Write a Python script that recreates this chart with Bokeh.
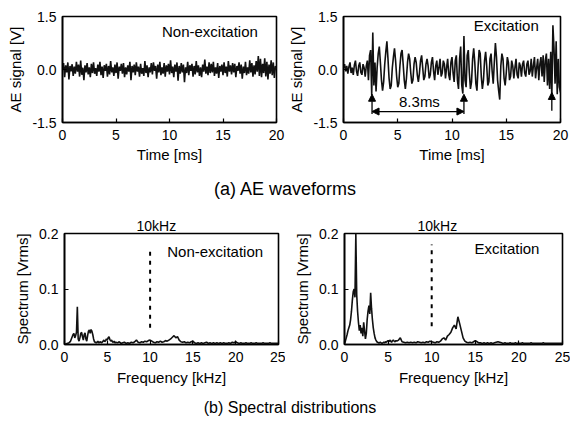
import numpy as np
from bokeh.plotting import figure
from bokeh.models import (Range1d, FixedTicker, PrintfTickFormatter, Label, Arrow,
                          NormalHead, Div)
from bokeh.layouts import row, column
from bokeh.embed import file_html
from bokeh.resources import INLINE

FONT = "Liberation Sans"

# ---------------- data ----------------
time_ms = np.round(np.arange(0, 20.001, 0.1), 1)

ae_non_excitation = [
    0.02, 0.18, -0.22, 0.12, -0.08, 0.20, -0.28, 0.10, -0.05, 0.15,
    -0.18, 0.08, -0.12, 0.22, -0.06, 0.14, -0.20, 0.25, -0.15, 0.05,
    -0.30, 0.12, -0.08, 0.18, -0.14, 0.06, -0.22, 0.16, -0.10, 0.20,
    -0.12, 0.04, -0.18, 0.14, -0.06, 0.22, -0.16, 0.08, -0.24, 0.12,
    -0.04, 0.16, -0.20, 0.10, -0.14, 0.24, -0.08, 0.06, -0.18, 0.14,
    -0.10, 0.20, -0.26, 0.08, -0.04, 0.16, -0.12, 0.18, -0.22, 0.06,
    -0.14, 0.12, -0.06, 0.22, -0.30, 0.10, -0.08, 0.14, -0.16, 0.20,
    -0.06, 0.08, -0.20, 0.16, -0.12, 0.04, -0.18, 0.24, -0.10, 0.12,
    -0.22, 0.06, -0.08, 0.18, -0.14, 0.20, -0.04, 0.10, -0.26, 0.14,
    -0.08, 0.22, -0.16, 0.06, -0.12, 0.18, -0.20, 0.12, -0.06, 0.16,
    -0.14, 0.26, -0.10, 0.08, -0.22, 0.14, -0.06, 0.20, -0.32, 0.10,
    -0.12, 0.18, -0.08, 0.14, -0.36, 0.06, -0.10, 0.22, -0.16, 0.12,
    -0.04, 0.16, -0.20, 0.10, -0.14, 0.24, -0.08, 0.12, -0.18, 0.06,
    -0.22, 0.14, -0.06, 0.28, -0.12, 0.08, -0.16, 0.20, -0.10, 0.16,
    -0.08, 0.22, -0.18, 0.06, -0.12, 0.18, -0.24, 0.10, -0.06, 0.14,
    -0.16, 0.20, -0.10, 0.08, -0.20, 0.24, -0.06, 0.12, -0.14, 0.18,
    -0.08, 0.16, -0.22, 0.10, -0.04, 0.20, -0.12, 0.14, -0.26, 0.08,
    -0.10, 0.22, -0.16, 0.06, -0.12, 0.26, -0.08, 0.18, -0.20, 0.12,
    -0.14, 0.24, -0.06, 0.38, -0.18, 0.30, -0.22, 0.16, -0.10, 0.32,
    -0.20, 0.22, -0.28, 0.14, -0.12, 0.26, -0.16, 0.20, -0.24, 0.10,
    0.00,
]

ae_excitation = [
    0.05, 0.15, -0.05, 0.10, -0.12, 0.08, 0.20, -0.10, 0.05, -0.15,
    0.12, 0.25, -0.05, -0.18, 0.10, 0.20, -0.08, -0.15, 0.15, 0.05,
    -0.20, 0.10, 0.25, -0.30, 0.40, 0.55, -0.72, 1.05, -0.45, 0.20,
    -0.62, 0.05, 0.45, 0.65, 0.20, -0.30, -0.60, -0.35, 0.15, 0.50,
    0.80, 0.30, -0.25, -0.55, -0.45, 0.05, 0.35, 0.60, 0.25, -0.20,
    -0.50, -0.40, 0.10, 0.45, 0.55, 0.15, -0.30, -0.55, -0.25, 0.20,
    0.45, 0.30, -0.10, -0.40, -0.30, 0.15, 0.35, 0.20, -0.15, -0.35,
    -0.10, 0.25, 0.40, 0.05, -0.30, -0.20, 0.15, 0.30, 0.10, -0.25,
    -0.15, 0.20, 0.35, -0.05, -0.30, 0.10, 0.25, -0.15, 0.05, 0.30,
    -0.20, -0.10, 0.25, 0.15, -0.25, 0.05, 0.30, -0.15, -0.30, 0.20,
    0.35, -0.10, -0.35, 0.25, 0.40, -0.30, -0.55, 0.30, 0.65, -0.45,
    -0.68, 0.95, -0.30, -0.50, 0.40, 0.55, -0.10, -0.55, -0.35, 0.30,
    0.60, 0.20, -0.40, -0.60, 0.05, 0.55, 0.45, -0.20, -0.55, -0.30,
    0.25, 0.50, 0.10, -0.45, -0.35, 0.30, 0.45, -0.05, -0.40, 0.20,
    0.75, 0.35, -0.30, -0.60, -0.85, 0.10, 0.45, 0.30, -0.25, -0.45,
    -0.10, 0.35, 0.20, -0.30, -0.20, 0.25, 0.10, -0.25, 0.05, 0.30,
    -0.15, -0.25, 0.20, 0.10, -0.20, 0.15, 0.25, -0.10, -0.20, 0.15,
    0.25, -0.15, -0.05, 0.30, -0.20, 0.10, 0.35, -0.25, 0.05, 0.30,
    -0.30, 0.15, 0.35, -0.20, 0.40, -0.35, 0.25, 0.45, -0.45, 0.30,
    -0.55, 0.50, -0.80, 1.25, 0.60, -0.40, 0.80, -0.70, 0.30, -0.50,
    -0.65,
]

freq_khz = np.round(np.concatenate([np.arange(0, 5.95, 0.1), np.arange(6.0, 25.001, 0.2)]), 1)

spec_non_excitation = [
    0.000, 0.001, 0.001, 0.002, 0.002, 0.003, 0.004, 0.006, 0.010, 0.014,
    0.018, 0.020, 0.012, 0.016, 0.022, 0.068, 0.010, 0.006, 0.012, 0.020,
    0.022, 0.014, 0.008, 0.018, 0.021, 0.010, 0.006, 0.016, 0.024, 0.026,
    0.020, 0.027, 0.024, 0.018, 0.010, 0.005, 0.004, 0.003, 0.004, 0.006,
    0.003, 0.004, 0.005, 0.003, 0.004, 0.006, 0.008, 0.005, 0.007, 0.010,
    0.008, 0.012, 0.014, 0.009, 0.006, 0.008, 0.005, 0.004, 0.006, 0.003,
    0.004, 0.003, 0.005, 0.002, 0.003, 0.004, 0.002, 0.003, 0.002, 0.004,
    0.003, 0.005, 0.008, 0.004, 0.003, 0.005, 0.004, 0.006, 0.005, 0.007,
    0.008, 0.006, 0.004, 0.003, 0.005, 0.004, 0.006, 0.004, 0.005, 0.007,
    0.006, 0.008, 0.010, 0.013, 0.016, 0.012, 0.014, 0.008, 0.005, 0.004,
    0.005, 0.003, 0.004, 0.003, 0.005, 0.006, 0.003, 0.002, 0.003, 0.002,
    0.003, 0.002, 0.003, 0.004, 0.002, 0.003, 0.002, 0.003, 0.002, 0.003,
    0.002, 0.003, 0.002, 0.003, 0.002, 0.002, 0.003, 0.002, 0.004, 0.003,
    0.005, 0.003, 0.002, 0.003, 0.002, 0.002, 0.003, 0.002, 0.002, 0.003,
    0.002, 0.002, 0.003, 0.002, 0.002, 0.002, 0.003, 0.002, 0.002, 0.002,
    0.003, 0.002, 0.002, 0.002, 0.002, 0.002,
]

spec_excitation = [
    0.002, 0.006, 0.012, 0.018, 0.025, 0.030, 0.035, 0.045, 0.060, 0.080,
    0.095, 0.100, 0.085, 0.200, 0.090, 0.060, 0.040, 0.025, 0.035, 0.020,
    0.030, 0.015, 0.040, 0.025, 0.010, 0.020, 0.045, 0.060, 0.070, 0.055,
    0.093, 0.065, 0.045, 0.030, 0.020, 0.012, 0.008, 0.005, 0.004, 0.003,
    0.003, 0.004, 0.003, 0.002, 0.003, 0.004, 0.003, 0.005, 0.004, 0.006,
    0.007, 0.005, 0.008, 0.006, 0.004, 0.007, 0.008, 0.006, 0.005, 0.007,
    0.006, 0.008, 0.012, 0.005, 0.004, 0.003, 0.004, 0.003, 0.004, 0.003,
    0.004, 0.003, 0.005, 0.004, 0.003, 0.004, 0.003, 0.005, 0.004, 0.006,
    0.005, 0.004, 0.003, 0.005, 0.004, 0.006, 0.010, 0.012, 0.008, 0.015,
    0.018, 0.022, 0.030, 0.035, 0.028, 0.050, 0.038, 0.025, 0.012, 0.006,
    0.004, 0.003, 0.004, 0.003, 0.005, 0.007, 0.005, 0.003, 0.003, 0.002,
    0.003, 0.002, 0.003, 0.002, 0.003, 0.002, 0.003, 0.004, 0.005, 0.004,
    0.003, 0.002, 0.003, 0.002, 0.002, 0.003, 0.002, 0.002, 0.003, 0.002,
    0.002, 0.002, 0.003, 0.002, 0.002, 0.002, 0.002, 0.003, 0.002, 0.002,
    0.002, 0.002, 0.002, 0.002, 0.003, 0.002, 0.002, 0.002, 0.002, 0.002,
    0.002, 0.002, 0.002, 0.002, 0.002, 0.002,
]

time_ticks = [0, 5, 10, 15, 20]
signal_ticks = [-1.5, 0.0, 1.5]
freq_ticks = [0, 5, 10, 15, 20, 25]
spec_ticks = [0.0, 0.1, 0.2]

period_start_ms = 2.63
period_end_ms = 11.1
third_burst_ms = 19.2
marker_freq_khz = 10


def make_fig(width, height, bl, br, bt, bb, xr, yr, xt, yt, xlabel, ylabel,
             title=None, title_offset=0, xstand=(7, 3)):
    kw = {}
    if title:
        kw["title"] = title
    p = figure(width=width, height=height, output_backend="svg", toolbar_location=None,
               x_range=Range1d(*xr), y_range=Range1d(*yr),
               min_border_left=bl, min_border_right=br, min_border_top=bt, min_border_bottom=bb,
               **kw)
    if title:
        p.title.align = "left"
        p.title.offset = title_offset
        p.title.standoff = 0
        p.title.text_font = FONT
        p.title.text_font_size = "14px"
        p.title.text_font_style = "normal"
        p.title.text_color = "black"
    p.background_fill_color = "white"
    p.border_fill_color = "white"
    p.outline_line_color = "black"
    p.outline_line_width = 1.6
    p.grid.visible = False
    for ax in (p.xaxis[0], p.yaxis[0]):
        ax.axis_line_color = "black"
        ax.axis_line_width = 1.6
        ax.major_tick_in = 4
        ax.major_tick_out = 0
        ax.major_tick_line_color = "black"
        ax.major_tick_line_width = 1.2
        ax.minor_tick_line_color = None
        ax.major_label_text_font = FONT
        ax.major_label_text_font_size = "14px"
        ax.major_label_text_color = "black"
        ax.axis_label_text_font = FONT
        ax.axis_label_text_font_size = "15px"
        ax.axis_label_text_font_style = "normal"
        ax.axis_label_text_color = "black"
    p.xaxis.ticker = FixedTicker(ticks=xt)
    p.yaxis.ticker = FixedTicker(ticks=yt)
    p.yaxis.formatter = PrintfTickFormatter(format="%.1f")
    p.xaxis.axis_label = xlabel
    p.yaxis.axis_label = ylabel
    p.xaxis.major_label_standoff = xstand[0]
    p.xaxis.axis_label_standoff = xstand[1]
    p.yaxis.major_label_standoff = 6
    p.yaxis.axis_label_standoff = 5
    return p


def add_text(p, x, y, text, align="left"):
    p.add_layout(Label(x=x, y=y, text=text, text_font=FONT, text_font_size="15px",
                       text_color="black", text_align=align, text_baseline="middle"))


# ---------------- (a) AE waveforms ----------------
p1 = make_fig(285, 165, 62, 9, 16, 43, (0, 20), (-1.5, 1.5), time_ticks, signal_ticks,
              "Time [ms]", "AE signal [V]")
p1.line(time_ms, ae_non_excitation, line_color="#111111", line_width=1.6)
add_text(p1, 9.3, 1.07, "Non-excitation")

p2 = make_fig(285, 165, 57, 10, 16, 43, (0, 20), (-1.5, 1.5), time_ticks, signal_ticks,
              "Time [ms]", "AE signal [V]")
p2.line(time_ms, ae_excitation, line_color="#111111", line_width=1.6)
add_text(p2, 12.0, 1.25, "Excitation")
for xa, y0, y1 in [(period_start_ms, -1.26, -0.70), (period_end_ms, -1.26, -0.70),
                   (third_burst_ms, -1.17, -0.65)]:
    p2.add_layout(Arrow(end=NormalHead(size=7, fill_color="black", line_color="black"),
                        x_start=xa, y_start=y0, x_end=xa, y_end=y1,
                        line_color="black", line_width=1.3))
p2.add_layout(Arrow(start=NormalHead(size=7, fill_color="black", line_color="black"),
                    end=NormalHead(size=7, fill_color="black", line_color="black"),
                    x_start=period_start_ms, y_start=-1.19, x_end=period_end_ms, y_end=-1.19,
                    line_color="black", line_width=1.3))
add_text(p2, 7.0, -0.91, "8.3ms", align="center")

# ---------------- (b) spectra ----------------
p3 = make_fig(285, 188, 64, 7, 31, 46, (0, 25), (0, 0.2), freq_ticks, spec_ticks,
              "Frequency [kHz]", "Spectrum [Vrms]", title="10kHz", title_offset=72, xstand=(7, 4))
p3.line(freq_khz, spec_non_excitation, line_color="#111111", line_width=1.6)
p3.segment(x0=[marker_freq_khz], y0=[0.03], x1=[marker_freq_khz], y1=[0.175],
           line_color="black", line_width=2, line_dash="4 5")
add_text(p3, 12.0, 0.167, "Non-excitation")

p4 = make_fig(285, 188, 59, 8, 31, 46, (0, 25), (0, 0.2), freq_ticks, spec_ticks,
              "Frequency [kHz]", "Spectrum [Vrms]", title="10kHz", title_offset=73, xstand=(7, 4))
p4.line(freq_khz, spec_excitation, line_color="#111111", line_width=1.6)
p4.segment(x0=[marker_freq_khz], y0=[0.033], x1=[marker_freq_khz], y1=[0.18],
           line_color="black", line_width=2, line_dash="4 5")
add_text(p4, 14.9, 0.173, "Excitation")

cap_a = Div(width=570, height=37, margin=0,
            text="<div style='font-family:\"Liberation Sans\";font-size:18px;line-height:20px;"
                 "padding-top:14px;text-align:center;color:black;width:570px'>(a) AE waveforms</div>")
cap_b = Div(width=570, height=34, margin=0,
            text="<div style='font-family:\"Liberation Sans\";font-size:16px;line-height:20px;"
                 "padding-top:8px;padding-left:10px;box-sizing:border-box;text-align:center;"
                 "color:black;width:570px'>(b) Spectral distributions</div>")

layout = column(row(p1, p2), cap_a, row(p3, p4), cap_b)

with open("out.html", "w") as f:
    f.write(file_html(layout, INLINE))
